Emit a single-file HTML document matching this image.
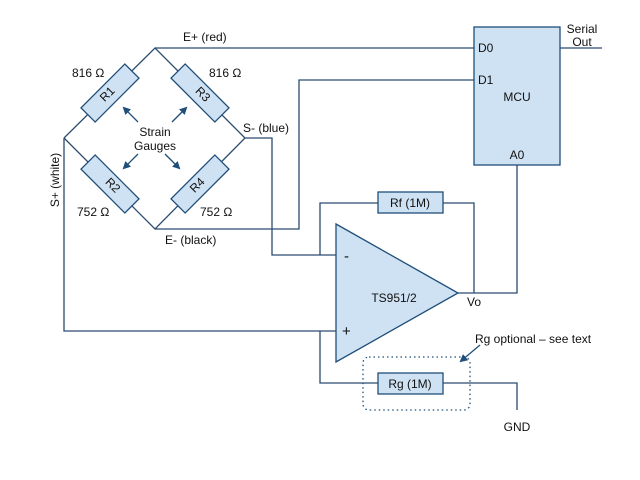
<!DOCTYPE html>
<html><head><meta charset="utf-8"><style>
html,body{margin:0;padding:0;background:#fff;}
svg{display:block;}
text{font-family:"Liberation Sans",Arial,sans-serif;font-size:12px;fill:#111;}
</style></head><body>
<svg width="640" height="480" viewBox="0 0 640 480" xmlns="http://www.w3.org/2000/svg">
<defs>
<marker id="ah" markerWidth="8" markerHeight="8" refX="6" refY="4" orient="auto" markerUnits="userSpaceOnUse">
<path d="M0,0 L8,4 L0,8 z" fill="#1f4e79"/></marker>
</defs>
<g stroke="#2b4c6f" stroke-width="1.3" fill="none">
<!-- bridge -->
<polyline points="64,138 155,48 245,138 155,229 64,138"/>
<!-- E+ -->
<polyline points="155,48 474,48"/>
<!-- E- -->
<polyline points="155,229 299,229 299,80 474,80"/>
<!-- S- -->
<polyline points="245,138 272,138 272,255 336,255"/>
<!-- S+ -->
<polyline points="64,138 64,331 336,331"/>
<!-- Serial -->
<line x1="560" y1="48" x2="602" y2="48"/>
<!-- Rf feedback -->
<polyline points="320,255 320,203 474,203 474,293"/>
<!-- output -->
<polyline points="458,293 517,293 517,165"/>
<!-- Rg -->
<polyline points="320,331 320,383 517,383 517,410"/>
</g>
<!-- bridge resistors -->
<g fill="#cfe2f3" stroke="#1f4e79" stroke-width="1.3">
<rect x="-31" y="-10" width="62" height="20" transform="translate(110,93) rotate(-45)"/>
<rect x="-31" y="-10" width="62" height="20" transform="translate(200,93) rotate(45)"/>
<rect x="-31" y="-10" width="62" height="20" transform="translate(110,184) rotate(45)"/>
<rect x="-31" y="-10" width="62" height="20" transform="translate(200,184) rotate(-45)"/>
<rect x="378" y="192" width="65" height="21"/>
<rect x="378" y="373" width="65" height="21"/>
<rect x="474" y="27" width="86" height="138"/>
<polygon points="336,224 458,293 336,362"/>
</g>
<g text-anchor="middle">
<text transform="translate(110,97) rotate(-45)">R1</text>
<text transform="translate(200,97) rotate(45)">R3</text>
<text transform="translate(110,188) rotate(45)">R2</text>
<text transform="translate(200,188) rotate(-45)">R4</text>
<text x="155" y="136">Strain</text>
<text x="155" y="150">Gauges</text>
<text x="410" y="207">Rf (1M)</text>
<text x="410" y="388">Rg (1M)</text>
<text x="517" y="101">MCU</text>
<text x="517" y="159">A0</text>
<text x="582" y="33">Serial</text>
<text x="582" y="46">Out</text>
<text x="394" y="302">TS951/2</text>
<text x="517" y="431">GND</text>
<text transform="translate(59,180) rotate(-90)">S+ (white)</text>
</g>
<g stroke="#1f4e79" stroke-width="1.3">
<line x1="138" y1="122" x2="124" y2="108" marker-end="url(#ah)"/>
<line x1="172" y1="122" x2="186" y2="108" marker-end="url(#ah)"/>
<line x1="138" y1="154" x2="124" y2="168" marker-end="url(#ah)"/>
<line x1="165" y1="154" x2="179" y2="168" marker-end="url(#ah)"/>
<line x1="480" y1="345" x2="461" y2="361" marker-end="url(#ah)"/>
</g>
<rect x="363" y="357" width="107" height="53" rx="6" fill="none" stroke="#1f4e79" stroke-width="1.3" stroke-dasharray="1.5,3"/>
<text x="72" y="77">816 Ω</text>
<text x="209" y="77">816 Ω</text>
<text x="77" y="216">752 Ω</text>
<text x="200" y="216">752 Ω</text>
<text x="183" y="41">E+ (red)</text>
<text x="243" y="132">S- (blue)</text>
<text x="165" y="244">E- (black)</text>
<text x="478" y="52">D0</text>
<text x="478" y="84">D1</text>
<text x="344" y="261" style="font-size:15px">-</text>
<text x="342" y="336" style="font-size:15px">+</text>
<text x="467" y="306">Vo</text>
<text x="475" y="343">Rg optional – see text</text>
</svg>
</body></html>
